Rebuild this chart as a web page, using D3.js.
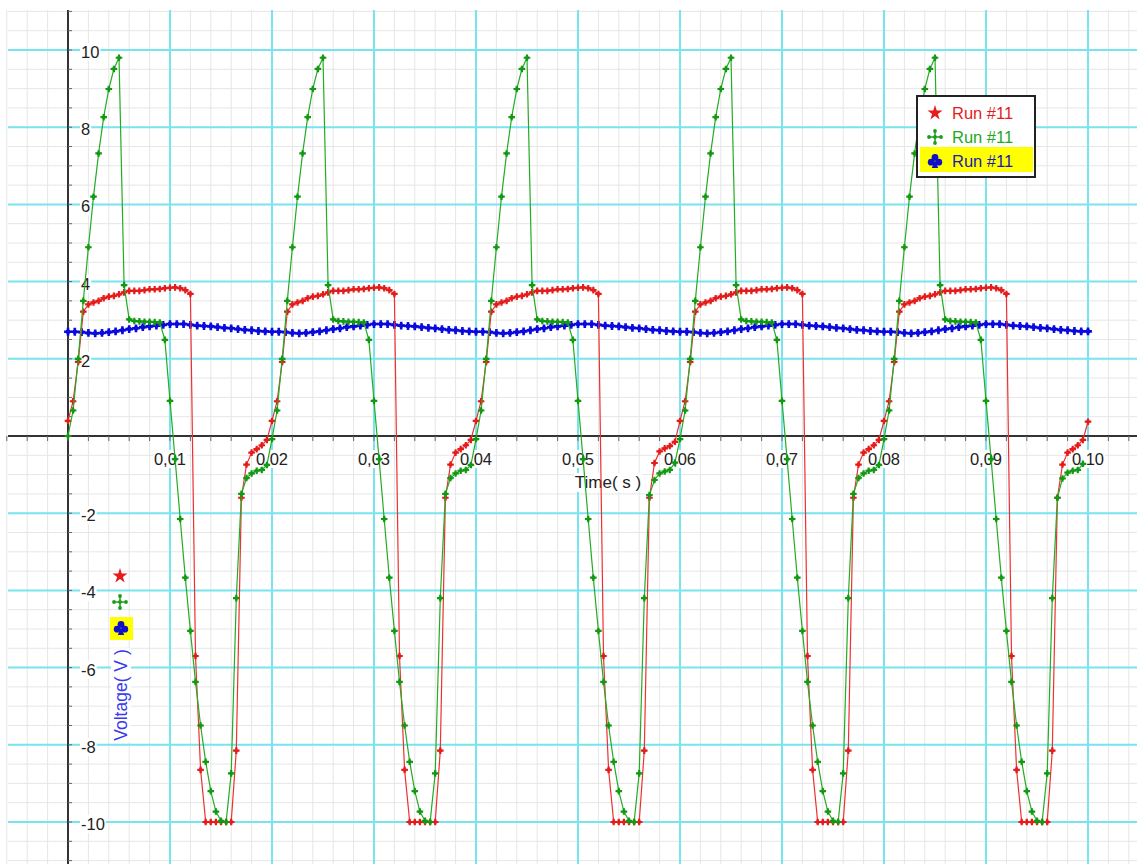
<!DOCTYPE html>
<html>
<head>
<meta charset="utf-8">
<script src="https://cdn.jsdelivr.net/npm/d3@7"></script>
<style>
  html, body { margin: 0; padding: 0; background: #fff; }
  svg { display: block; font-family: "Liberation Sans", Arial, sans-serif; }
</style>
</head>
<body>
<svg id="chart" width="1137" height="864"></svg>
<script>
// ---- measurement data: three channels of run #11 ----
const redGreenStep = 0.0005;   // s between samples, red & green channels
const blueStep = 1 / 1500;     // s between samples, blue channel

const redVolts = [
  0.39, 0.90, 1.92, 3.22, 3.41, 3.46, 3.50, 3.57, 3.61, 3.63, 3.67, 3.72, 3.76, 3.76, 3.76, 3.78, 3.80, 3.80, 3.81, 3.83,
  3.84, 3.85, 3.83, 3.78, 3.68, -5.70, -8.65, -10, -10, -10, -10, -10, -10, -8.15, -1.60, -0.74, -0.43, -0.34, -0.24, -0.10,
  0.39, 0.90, 1.92, 3.22, 3.41, 3.46, 3.50, 3.57, 3.61, 3.63, 3.67, 3.72, 3.76, 3.76, 3.76, 3.78, 3.80, 3.80, 3.81, 3.83,
  3.84, 3.85, 3.83, 3.78, 3.68, -5.70, -8.65, -10, -10, -10, -10, -10, -10, -8.15, -1.60, -0.74, -0.43, -0.34, -0.24, -0.10,
  0.39, 0.90, 1.92, 3.22, 3.41, 3.46, 3.50, 3.57, 3.61, 3.63, 3.67, 3.72, 3.76, 3.76, 3.76, 3.78, 3.80, 3.80, 3.81, 3.83,
  3.84, 3.85, 3.83, 3.78, 3.68, -5.70, -8.65, -10, -10, -10, -10, -10, -10, -8.15, -1.60, -0.70, -0.40, -0.32, -0.26, -0.15,
  0.39, 0.90, 1.92, 3.22, 3.41, 3.46, 3.50, 3.57, 3.61, 3.63, 3.67, 3.72, 3.76, 3.76, 3.76, 3.78, 3.80, 3.80, 3.81, 3.83,
  3.84, 3.85, 3.83, 3.78, 3.68, -5.70, -8.65, -10, -10, -10, -10, -10, -10, -8.15, -1.60, -0.74, -0.43, -0.34, -0.24, -0.10,
  0.39, 0.90, 1.92, 3.22, 3.41, 3.46, 3.50, 3.57, 3.61, 3.63, 3.67, 3.72, 3.76, 3.76, 3.76, 3.78, 3.80, 3.80, 3.81, 3.83,
  3.84, 3.85, 3.83, 3.78, 3.68, -5.70, -8.65, -10, -10, -10, -10, -10, -10, -8.15, -1.60, -0.74, -0.43, -0.34, -0.24, -0.10,
  0.37
];

const greenVolts = [
  0.00, 0.66, 2.00, 3.50, 4.89, 6.20, 7.32, 8.26, 8.99, 9.51, 9.80, 3.91, 3.02, 2.98, 2.97, 2.96, 2.96, 2.95, 2.94, 2.49,
  0.91, -0.60, -2.15, -3.67, -5.05, -6.37, -7.50, -8.44, -9.20, -9.73, -9.97, -10, -8.74, -4.20, -1.50, -1.09, -0.97, -0.90, -0.88, -0.75,
  -0.08, 0.66, 2.00, 3.50, 4.89, 6.20, 7.32, 8.26, 8.99, 9.51, 9.80, 3.91, 3.02, 2.98, 2.97, 2.96, 2.96, 2.95, 2.94, 2.49,
  0.91, -0.60, -2.15, -3.67, -5.05, -6.37, -7.50, -8.44, -9.20, -9.73, -9.97, -10, -8.74, -4.20, -1.50, -1.09, -0.97, -0.90, -0.88, -0.75,
  -0.08, 0.66, 2.00, 3.50, 4.89, 6.20, 7.32, 8.26, 8.99, 9.51, 9.80, 3.91, 3.02, 2.98, 2.97, 2.96, 2.96, 2.95, 2.94, 2.49,
  0.91, -0.60, -2.15, -3.67, -5.05, -6.37, -7.50, -8.44, -9.20, -9.73, -9.97, -10, -8.74, -4.20, -1.53, -1.14, -0.97, -0.92, -0.88, -0.69,
  -0.08, 0.66, 2.00, 3.50, 4.89, 6.20, 7.32, 8.26, 8.99, 9.51, 9.80, 3.91, 3.02, 2.98, 2.97, 2.96, 2.96, 2.95, 2.94, 2.49,
  0.91, -0.60, -2.15, -3.67, -5.05, -6.37, -7.50, -8.44, -9.20, -9.73, -9.97, -10, -8.74, -4.20, -1.50, -1.09, -0.97, -0.90, -0.88, -0.75,
  -0.08, 0.66, 2.00, 3.50, 4.89, 6.20, 7.32, 8.26, 8.99, 9.51, 9.80, 3.91, 3.02, 2.98, 2.97, 2.96, 2.96, 2.95, 2.94, 2.49,
  0.91, -0.60, -2.15, -3.67, -5.05, -6.37, -7.50, -8.44, -9.20, -9.73, -9.97, -10, -8.74, -4.20, -1.60, -1.10, -0.95, -0.90, -0.88, -0.72
];

const blueVolts = [
  2.70, 2.70, 2.69, 2.67, 2.66, 2.67, 2.69, 2.71, 2.74, 2.77, 2.79, 2.82, 2.84, 2.86, 2.88, 2.90, 2.90, 2.90, 2.88, 2.86,
  2.85, 2.84, 2.82, 2.80, 2.79, 2.77, 2.75, 2.74, 2.72, 2.71,
  2.70, 2.70, 2.69, 2.67, 2.66, 2.67, 2.69, 2.71, 2.74, 2.77, 2.79, 2.82, 2.84, 2.86, 2.88, 2.90, 2.90, 2.90, 2.88, 2.86,
  2.85, 2.84, 2.82, 2.80, 2.79, 2.77, 2.75, 2.74, 2.72, 2.71,
  2.70, 2.70, 2.69, 2.67, 2.66, 2.67, 2.69, 2.71, 2.74, 2.77, 2.79, 2.82, 2.84, 2.86, 2.88, 2.90, 2.90, 2.90, 2.88, 2.86,
  2.85, 2.84, 2.82, 2.80, 2.79, 2.77, 2.75, 2.74, 2.72, 2.71,
  2.70, 2.70, 2.69, 2.67, 2.66, 2.67, 2.69, 2.71, 2.74, 2.77, 2.79, 2.82, 2.84, 2.86, 2.88, 2.90, 2.90, 2.90, 2.88, 2.86,
  2.85, 2.84, 2.82, 2.80, 2.79, 2.77, 2.75, 2.74, 2.72, 2.71,
  2.70, 2.70, 2.69, 2.67, 2.66, 2.67, 2.69, 2.71, 2.74, 2.77, 2.79, 2.82, 2.84, 2.86, 2.88, 2.90, 2.90, 2.90, 2.88, 2.86,
  2.85, 2.84, 2.82, 2.80, 2.79, 2.77, 2.75, 2.74, 2.72, 2.71,
  2.71
];

const xTickValues = [0.01, 0.02, 0.03, 0.04, 0.05, 0.06, 0.07, 0.08, 0.09, 0.10];
const xTickLabels = ["0,01", "0,02", "0,03", "0,04", "0,05", "0,06", "0,07", "0,08", "0,09", "0,10"];
const yTickValues = [10, 8, 6, 4, 2, -2, -4, -6, -8, -10];
const yTickLabels = ["10", "8", "6", "4", "2", "-2", "-4", "-6", "-8", "-10"];
const seriesNames = ["Run #11", "Run #11", "Run #11"];
const xTitle = "Time( s )";
const yTitle = "Voltage( V )";

// ---- setup ----
const W = 1137, H = 864;
const svg = d3.select("#chart");
const x = d3.scaleLinear().domain([0, 0.1]).range([68, 1088]);
const y = d3.scaleLinear().domain([-10, 10]).range([822, 50]);

const gridLeft = 8, gridTop = 10;
const colors = {
  red: "#e41c1c", redLine: "#ee3030",
  green: "#129a12", greenLine: "#24ac24",
  blue: "#0a0ade", blueLine: "#1414d0",
  cyan: "#78e4f0", minor: "#e6e6e6", axis: "#333333"
};

// ---- grid ----
const grid = svg.append("g");
const minorX = d3.range(-3, 53).map(i => i * 0.002);
const minorY = d3.range(-22, 23).map(i => i * 0.5);
grid.selectAll(".vminor").data(minorX).join("line")
  .attr("x1", d => x(d)).attr("x2", d => x(d))
  .attr("y1", gridTop).attr("y2", H)
  .attr("stroke", colors.minor).attr("stroke-width", 1);
grid.selectAll(".hminor").data(minorY).join("line")
  .attr("class", "hminor")
  .attr("x1", gridLeft).attr("x2", W)
  .attr("y1", d => y(d)).attr("y2", d => y(d))
  .attr("stroke", colors.minor).attr("stroke-width", 1);
grid.selectAll(".vmajor").data(xTickValues).join("line")
  .attr("class", "vmajor")
  .attr("x1", d => x(d)).attr("x2", d => x(d))
  .attr("y1", gridTop).attr("y2", H)
  .attr("stroke", colors.cyan).attr("stroke-width", 2);
grid.selectAll(".hmajor").data(yTickValues).join("line")
  .attr("class", "hmajor")
  .attr("x1", gridLeft).attr("x2", W)
  .attr("y1", d => y(d)).attr("y2", d => y(d))
  .attr("stroke", colors.cyan).attr("stroke-width", 2);

// ---- tick labels on white backing ----
function backedText(g, tx, ty, str, anchor, fill, size, rotate) {
  const grp = g.append("g");
  if (rotate) grp.attr("transform", `translate(${tx},${ty}) rotate(${rotate})`);
  const bg = grp.append("rect").attr("fill", "#fff");
  const t = grp.append("text")
    .attr("x", rotate ? 0 : tx).attr("y", rotate ? 0 : ty)
    .attr("text-anchor", anchor)
    .attr("fill", fill).attr("font-size", size).text(str);
  const b = t.node().getBBox();
  bg.attr("x", b.x - 1).attr("y", b.y).attr("width", b.width + 2).attr("height", b.height);
  return grp;
}
const labels = svg.append("g");
xTickValues.forEach((v, i) => backedText(labels, x(v), y(0) + 29, xTickLabels[i], "middle", "#222", 16.5));
yTickValues.forEach((v, i) => backedText(labels, 81, y(v) + 8, yTickLabels[i], "start", "#222", 16.5));
backedText(labels, 608, 488, xTitle, "middle", "#222", 17);
backedText(labels, 127, 695, yTitle, "middle", "#3838f0", 17.5, -90);

// ---- axes and small ticks ----
const axes = svg.append("g");
axes.append("line").attr("x1", x(0)).attr("x2", x(0)).attr("y1", gridTop).attr("y2", H)
  .attr("stroke", colors.axis).attr("stroke-width", 2);
axes.append("line").attr("x1", gridLeft).attr("x2", W).attr("y1", y(0)).attr("y2", y(0))
  .attr("stroke", colors.axis).attr("stroke-width", 2);
axes.selectAll(".xt").data(minorX).join("line")
  .attr("x1", d => x(d)).attr("x2", d => x(d))
  .attr("y1", y(0)).attr("y2", y(0) + 5)
  .attr("stroke", "#666").attr("stroke-width", 1);
axes.selectAll(".yt").data(minorY).join("line")
  .attr("class", "yt")
  .attr("x1", x(0)).attr("x2", x(0) + 4)
  .attr("y1", d => y(d)).attr("y2", d => y(d))
  .attr("stroke", "#666").attr("stroke-width", 1);

// ---- series ----
const redPts = redVolts.map((v, i) => [i * redGreenStep, v]);
const greenPts = greenVolts.map((v, i) => [i * redGreenStep, v]);
const bluePts = blueVolts.map((v, i) => [i * blueStep, v]);

const line = d3.line().x(d => x(d[0])).y(d => y(d[1]));
const plot = svg.append("g");
function drawSeries(pts, lineColor, dotColor, crossSize, dotR) {
  plot.append("path").attr("d", line(pts)).attr("fill", "none")
    .attr("stroke", lineColor).attr("stroke-width", 1.2);
  const sym = d3.symbol().type(d3.symbolCross).size(crossSize)();
  const dots = plot.append("g").selectAll("g").data(pts).join("g")
    .attr("transform", d => `translate(${x(d[0])},${y(d[1])})`)
    .attr("fill", dotColor);
  dots.append("path").attr("d", sym);
  dots.append("circle").attr("r", dotR);
}
drawSeries(bluePts, colors.blueLine, colors.blue, 34, 2.4);
drawSeries(redPts, colors.redLine, colors.red, 24, 1.9);
drawSeries(greenPts, colors.greenLine, colors.green, 24, 1.9);

// ---- legend marker shapes ----
function starMark(g, cx, cy, color) {
  g.append("path").attr("d", d3.symbol().type(d3.symbolStar).size(70)())
    .attr("transform", `translate(${cx},${cy})`).attr("fill", color);
}
function crossMark(g, cx, cy, color) {
  const m = g.append("g").attr("transform", `translate(${cx},${cy})`);
  m.append("path").attr("d", "M-6,0H6M0,-6V6").attr("stroke", color).attr("stroke-width", 1.5);
  [[-6, 0], [6, 0], [0, -6], [0, 6], [0, 0]].forEach(p =>
    m.append("circle").attr("cx", p[0]).attr("cy", p[1]).attr("r", 1.9).attr("fill", color));
}
function clubMark(g, cx, cy, color) {
  const m = g.append("g").attr("transform", `translate(${cx},${cy})`).attr("fill", color);
  m.append("circle").attr("cx", 0).attr("cy", -3.6).attr("r", 3.4);
  m.append("circle").attr("cx", -3.8).attr("cy", 1.2).attr("r", 3.4);
  m.append("circle").attr("cx", 3.8).attr("cy", 1.2).attr("r", 3.4);
  m.append("path").attr("d", "M0,-1L-3.2,7H3.2Z");
}

// ---- legend box ----
const legend = svg.append("g");
legend.append("rect").attr("x", 917).attr("y", 96).attr("width", 118).attr("height", 81)
  .attr("fill", "#fff").attr("stroke", "#222").attr("stroke-width", 2);
legend.append("rect").attr("x", 920).attr("y", 147).attr("width", 113).attr("height", 25)
  .attr("fill", "#ffff00");
const legendRows = [
  { mark: starMark, color: "#e41c1c", text: "#e41c1c", cy: 113 },
  { mark: crossMark, color: "#1a9e1a", text: "#22a822", cy: 137 },
  { mark: clubMark, color: "#1010c8", text: "#1a1ab8", cy: 161 }
];
legendRows.forEach((r, i) => {
  r.mark(legend, 935, r.cy, r.color);
  legend.append("text").attr("x", 952).attr("y", r.cy + 6)
    .attr("fill", r.text).attr("font-size", 16.5).text(seriesNames[i]);
});

// ---- channel markers beside the voltage axis ----
const side = svg.append("g");
side.append("rect").attr("x", 110).attr("y", 617).attr("width", 23).attr("height", 23).attr("fill", "#ffff00");
starMark(side, 120, 576, "#e41c1c");
crossMark(side, 120, 602, "#1a9e1a");
clubMark(side, 121, 628, "#1010c8");
</script>
</body>
</html>
